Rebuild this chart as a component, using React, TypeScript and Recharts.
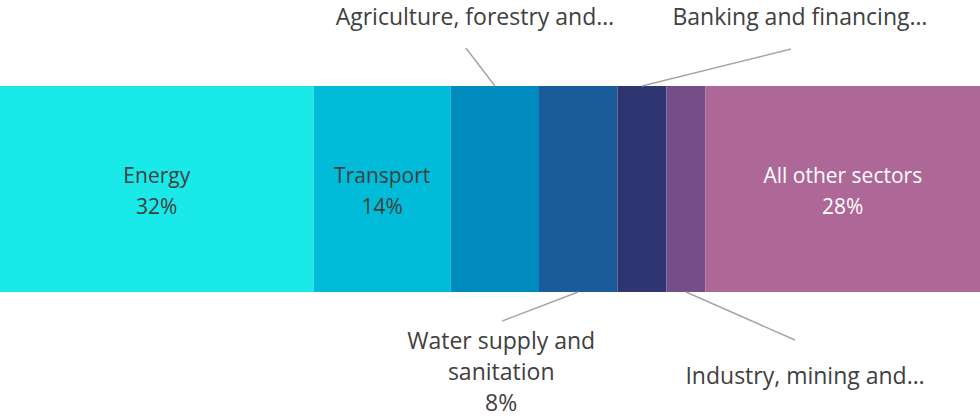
import React from 'react';
import { BarChart, Bar, XAxis, YAxis, LabelList } from 'recharts';

const sectorKeys = ['energy', 'transport', 'agriculture', 'water', 'banking', 'industry', 'other'];
const sectorLabels = [
  ['Energy'],
  ['Transport'],
  ['Agriculture, forestry and…'],
  ['Water supply and', 'sanitation'],
  ['Banking and financing…'],
  ['Industry, mining and…'],
  ['All other sectors'],
];
const shares = [32, 14, 9, 8, 5, 4, 28];
const showPct = [true, true, false, true, false, false, true];

const COLORS = ['#1ae9e9', '#00bcd8', '#008bbf', '#195c99', '#2f3571', '#764e87', '#ad6898'];
const FONT = '"Open Sans", sans-serif';
const TEXT = '#404040';

// where each label sits: inside the bar, or as a callout above/below it
const callouts: Record<string, { side: 'top' | 'bottom'; lx: number; ly: number; tx: number; ty: number } | null> = {
  energy: null,
  transport: null,
  agriculture: { side: 'top', lx: -29, ly: -38, tx: -20, ty: -61 },
  water: { side: 'bottom', lx: -76, ly: 29, tx: -77, ty: 57 },
  banking: { side: 'top', lx: 149, ly: -37, tx: 158, ty: -61 },
  industry: { side: 'bottom', lx: 109, ly: 48, tx: 119, ty: 92 },
  other: null,
};

const row: Record<string, number | string> = { name: 'Sectors' };
sectorKeys.forEach((k, i) => {
  row[k] = shares[i];
});
const chartData = [row];

const makeLabel = (idx: number) => (props: any) => {
  const { x, y, width, height } = props;
  const key = sectorKeys[idx];
  const lines = [...sectorLabels[idx]];
  if (showPct[idx]) lines.push(`${shares[idx]}%`);
  const cx = Number(x) + Number(width) / 2;
  const c = callouts[key];
  if (!c) {
    const cy = Number(y) + Number(height) / 2;
    const fill = key === 'other' ? '#ffffff' : TEXT;
    return (
      <g>
        {lines.map((t, i) => (
          <text key={i} x={cx} y={cy - 6 + i * 31} textAnchor="middle" fill={fill} fontSize={21} fontFamily={FONT}>
            {t}
          </text>
        ))}
      </g>
    );
  }
  const edge = c.side === 'top' ? Number(y) : Number(y) + Number(height);
  return (
    <g>
      <line x1={cx} y1={edge} x2={cx + c.lx} y2={edge + c.ly} stroke="#a6a6a6" strokeWidth={1.5} />
      {lines.map((t, i) => (
        <text key={i} x={cx + c.tx} y={edge + c.ty + i * 31} textAnchor="middle" fill={TEXT} fontSize={23} fontFamily={FONT}>
          {t}
        </text>
      ))}
    </g>
  );
};

const App: React.FC = () => {
  return (
    <div style={{ position: 'absolute', left: 0, top: 0 }}>
      <BarChart
        width={980}
        height={418}
        data={chartData}
        layout="vertical"
        margin={{ top: 0, right: 0, bottom: 40, left: 0 }}
      >
        <XAxis type="number" domain={[0, 100]} hide />
        <YAxis type="category" dataKey="name" hide />
        {sectorKeys.map((k, i) => (
          <Bar key={k} dataKey={k} stackId="a" fill={COLORS[i]} barSize={206} isAnimationActive={false}>
            <LabelList dataKey={k} content={makeLabel(i)} />
          </Bar>
        ))}
      </BarChart>
    </div>
  );
};

export default App;
